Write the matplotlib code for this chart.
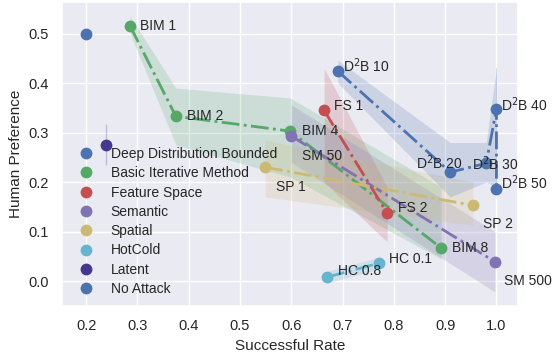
import matplotlib
matplotlib.use("Agg")
import matplotlib.pyplot as plt
import seaborn as sns
from matplotlib.lines import Line2D

sns.set_theme(style="darkgrid")
plt.rcParams["font.family"] = ["Liberation Sans", "DejaVu Sans"]

# success rate / human preference per attack setting
bim_x = [0.286, 0.375, 0.598, 0.892]
bim_y = [0.515, 0.333, 0.303, 0.067]
bim_lo = [0.50, 0.275, 0.21, 0.045]
bim_hi = [0.535, 0.39, 0.37, 0.19]
bim_labels = ["BIM 1", "BIM 2", "BIM 4", "BIM 8"]

fs_x = [0.664, 0.787]
fs_y = [0.345, 0.137]
fs_lo = [0.20, 0.079]
fs_hi = [0.43, 0.19]
fs_labels = ["FS 1", "FS 2"]

sm_x = [0.600, 0.997]
sm_y = [0.293, 0.039]
sm_lo = [0.24, -0.022]
sm_hi = [0.356, 0.10]
sm_labels = ["SM 50", "SM 500"]

sp_x = [0.549, 0.954]
sp_y = [0.230, 0.153]
sp_lo = [0.17, 0.113]
sp_hi = [0.285, 0.20]
sp_labels = ["SP 1", "SP 2"]

hc_x = [0.771, 0.670]
hc_y = [0.036, 0.008]
hc_lo = [0.024, -0.004]
hc_hi = [0.048, 0.020]
hc_labels = ["HC 0.1", "HC 0.8"]

d2b_x = [0.691, 0.910, 0.980, 1.000, 1.000]
d2b_y = [0.424, 0.220, 0.238, 0.347, 0.186]
d2b_band_x = [0.691, 0.910, 0.980, 1.000]
d2b_lo = [0.40, 0.17, 0.20, 0.19]
d2b_hi = [0.446, 0.28, 0.28, 0.43]
d2b_labels = ["D$^2$B 10", "D$^2$B 20", "D$^2$B 30", "D$^2$B 40", "D$^2$B 50"]

latent_x, latent_y = 0.239, 0.275
latent_lo, latent_hi = 0.234, 0.317
clean_x, clean_y = 0.200, 0.500

# label offsets in pixels
bim_off = [(10, 0), (11, 0), (12, 0), (11, 0)]
fs_off = [(10, 4), (11, 5)]
sm_off = [(11, -20), (9, -19)]
sp_off = [(11, -20), (10, -19)]
hc_off = [(10, 4), (11, 6)]
d2b_off = [(5, 6), (-34, 9), (-14, 0), (5, 5), (5, 6)]

blue = "#4C72B0"
green = "#55A868"
red = "#C44E52"
purple = "#8172B2"
yellow = "#CCB974"
cyan = "#64B5CD"
navy = "#45368E"

fig = plt.figure(figsize=(5.55, 3.56), dpi=100)
ax = fig.add_axes([0.1117, 0.1404, 0.8216, 0.8540])

series = [
    (bim_x, bim_y, bim_x, bim_lo, bim_hi, bim_labels, bim_off, green),
    (fs_x, fs_y, fs_x, fs_lo, fs_hi, fs_labels, fs_off, red),
    (sm_x, sm_y, sm_x, sm_lo, sm_hi, sm_labels, sm_off, purple),
    (sp_x, sp_y, sp_x, sp_lo, sp_hi, sp_labels, sp_off, yellow),
    (hc_x[::-1], hc_y[::-1], hc_x[::-1], hc_lo[::-1], hc_hi[::-1],
     hc_labels[::-1], hc_off[::-1], cyan),
    (d2b_x, d2b_y, d2b_band_x, d2b_lo, d2b_hi, d2b_labels, d2b_off, blue),
]

for xs, ys, bx, lo, hi, labels, offs, c in series:
    ax.fill_between(bx, lo, hi, color=c, alpha=0.2, linewidth=0)
    ax.plot(xs, ys, linestyle="-.", color=c, lw=2, marker="o",
            markersize=8.5, markeredgewidth=0)
    for x, y, t, (dx, dy) in zip(xs, ys, labels, offs):
        ax.annotate(t, (x, y), xytext=(dx, dy), textcoords="offset pixels",
                    ha="left", va="center", fontsize=10, color="#262626")

# thin vertical band at the top of D2B 40/50
ax.fill_betweenx([d2b_y[4], d2b_hi[3]], 0.999, 1.001, color=blue, alpha=0.2,
                 linewidth=0)

ax.vlines(latent_x, latent_lo, latent_hi, color=navy, alpha=0.25, lw=1)
ax.plot(latent_x, latent_y, "o", color=navy, markersize=8.5, markeredgewidth=0)
ax.plot(clean_x, clean_y, "o", color=blue, markersize=8.5, markeredgewidth=0)

ax.set_xlim(0.153, 1.042)
ax.set_ylim(-0.0505, 0.564)
ax.set_xticks([0.2, 0.3, 0.4, 0.5, 0.6, 0.7, 0.8, 0.9, 1.0])
ax.set_yticks([0.0, 0.1, 0.2, 0.3, 0.4, 0.5])
ax.tick_params(labelsize=10.5)
ax.set_xlabel("Successful Rate", fontsize=11)
ax.set_ylabel("Human Preference", fontsize=11)

legend_names = ["Deep Distribution Bounded", "Basic Iterative Method",
                "Feature Space", "Semantic", "Spatial", "HotCold",
                "Latent", "No Attack"]
legend_colors = [blue, green, red, purple, yellow, cyan, navy, blue]
handles = [Line2D([], [], linestyle="none", marker="o", markersize=8.5,
                  markeredgewidth=0, color=c) for c in legend_colors]
ax.legend(handles, legend_names, loc="upper left",
          bbox_to_anchor=(0.0, 0.555), frameon=False, fontsize=10,
          handletextpad=0.8, labelspacing=0.38, borderaxespad=0.3)

fig.savefig("out.png", dpi=100)
